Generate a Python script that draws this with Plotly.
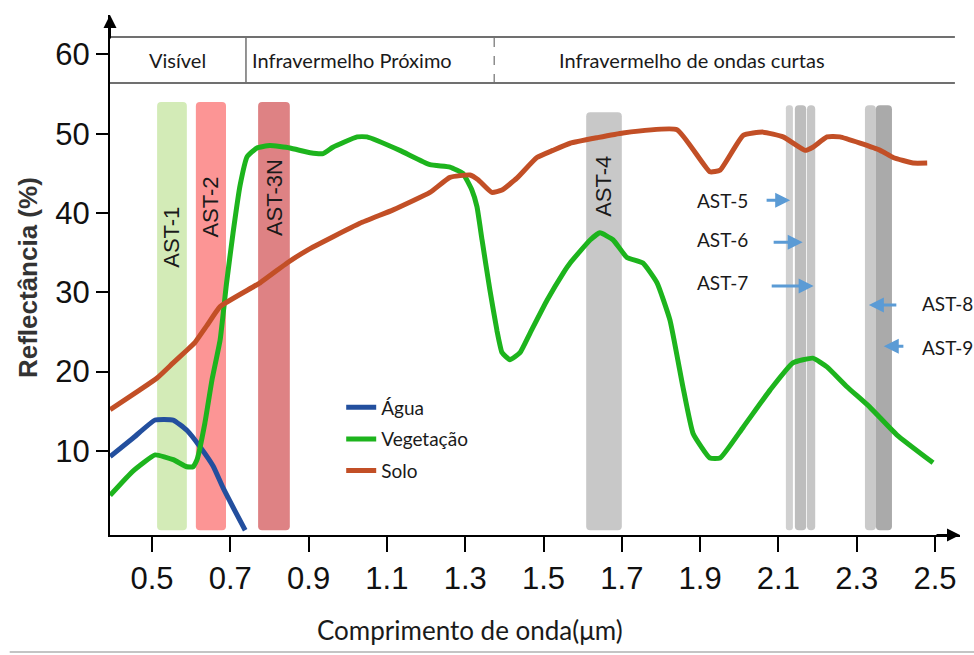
import plotly.graph_objects as go

# ---------------- data ----------------
wl_agua = [0.393, 0.451, 0.508, 0.554, 0.589, 0.623, 0.656, 0.681, 0.707, 0.738]
agua = [9.3, 11.6, 13.9, 13.9, 12.6, 10.5, 8.1, 5.4, 2.9, 0.0]

wl_veg = [0.393, 0.450, 0.508, 0.554, 0.589, 0.605, 0.615, 0.635, 0.653, 0.674, 0.690, 0.707,
          0.725, 0.743, 0.768, 0.801, 0.852, 0.904, 0.937, 0.962, 1.024, 1.049, 1.133, 1.210,
          1.261, 1.294, 1.317, 1.330, 1.343, 1.363, 1.381, 1.394, 1.414, 1.440, 1.466, 1.509,
          1.550, 1.568, 1.619, 1.644, 1.678, 1.713, 1.754, 1.790, 1.823, 1.856, 1.882, 1.925,
          1.951, 2.010, 2.079, 2.137, 2.188, 2.224, 2.275, 2.334, 2.403, 2.495]
vegetacao = [4.4, 7.4, 9.5, 8.9, 8.0, 8.0, 8.9, 13.5, 18.9, 24.0, 31.0, 37.5,
             43.5, 47.1, 48.2, 48.5, 48.2, 47.6, 47.5, 48.3, 49.6, 49.6, 47.9, 46.1,
             45.8, 45.0, 42.9, 40.8, 36.6, 30.3, 25.2, 22.4, 21.5, 22.4, 24.9, 29.0,
             32.4, 33.7, 36.6, 37.5, 36.6, 34.4, 33.7, 31.2, 26.5, 18.1, 12.2, 9.1,
             9.1, 13.0, 17.7, 21.1, 21.7, 20.6, 18.1, 15.5, 12.0, 8.5]

wl_solo = [0.393, 0.469, 0.513, 0.554, 0.589, 0.610, 0.640, 0.674, 0.776, 0.845, 0.896, 1.031,
           1.116, 1.210, 1.261, 1.312, 1.333, 1.368, 1.394, 1.432, 1.483, 1.524, 1.568, 1.637,
           1.703, 1.841, 1.925, 1.951, 2.010, 2.061, 2.112, 2.168, 2.188, 2.224, 2.257, 2.360,
           2.393, 2.444, 2.480]
solo = [15.2, 17.7, 19.2, 21.1, 22.7, 23.7, 25.8, 28.2, 31.2, 33.7, 35.3, 38.7,
        40.4, 42.6, 44.5, 44.8, 44.2, 42.6, 42.9, 44.4, 47.0, 47.9, 48.8, 49.5,
        50.1, 50.5, 45.2, 45.4, 49.8, 50.2, 49.6, 47.9, 48.3, 49.6, 49.6, 47.9,
        47.0, 46.3, 46.3]

band_names = ["AST-1", "AST-2", "AST-3N", "AST-4", "AST-5", "AST-6", "AST-7", "AST-8", "AST-9"]
band_lo = [0.513, 0.612, 0.771, 1.609, 2.119, 2.142, 2.173, 2.321, 2.349]
band_hi = [0.589, 0.689, 0.852, 1.700, 2.137, 2.171, 2.194, 2.349, 2.390]
band_top = [54.0, 54.0, 54.0, 52.7, 53.6, 53.6, 53.6, 53.6, 53.6]

regions = ["Visível", "Infravermelho Próximo", "Infravermelho de ondas curtas"]
region_bounds = [0.740, 1.374]

x_ticks = [0.5, 0.7, 0.9, 1.1, 1.3, 1.5, 1.7, 1.9, 2.1, 2.3, 2.5]
y_ticks = [10, 20, 30, 40, 50, 60]

# ---------------- styles ----------------
band_colors = ["#d3ebb7", "#fc9595", "#de8284", "#c8c8c8", "#d0d0d0", "#bdbdbd",
               "#c6c6c6", "#cacaca", "#aaaaaa"]
C_AGUA, C_VEG, C_SOLO = "#234f9e", "#1db41d", "#c24f26"
TXT = "#1a1a1a"
NUM_FONT = "Liberation Sans Narrow, Arial Narrow, Liberation Sans, Arial"
CAL = "Lato, Open Sans, sans-serif"
ARIAL = "Liberation Sans, Arial"

fig = go.Figure()

centers = [(a + b) / 2 for a, b in zip(band_lo, band_hi)]
widths = [b - a for a, b in zip(band_lo, band_hi)]
fig.add_trace(go.Bar(x=centers, y=band_top, base=0, width=widths,
                     marker=dict(color=band_colors, line=dict(width=0), cornerradius=4),
                     showlegend=False, hoverinfo="skip"))

fig.add_trace(go.Scatter(x=wl_agua, y=agua, mode="lines", name="Água",
                         line=dict(color=C_AGUA, width=5, shape="spline", smoothing=0.4),
                         legendgroup="a"))
fig.add_trace(go.Scatter(x=wl_veg, y=vegetacao, mode="lines", name="Vegetação",
                         line=dict(color=C_VEG, width=5, shape="spline", smoothing=0.4),
                         legendgroup="v"))
fig.add_trace(go.Scatter(x=wl_solo, y=solo, mode="lines", name="Solo",
                         line=dict(color=C_SOLO, width=5, shape="spline", smoothing=0.4),
                         legendgroup="s"))

ann = []
# band labels inside cylinders
label_y = [37.0, 40.8, 42.0, 43.3]
for i in range(4):
    ann.append(dict(x=centers[i], y=label_y[i], xref="x", yref="y", text=band_names[i],
                    textangle=-90, showarrow=False, xanchor="center", yanchor="middle",
                    font=dict(family=ARIAL, size=22, color=TXT)))

# arrow labels for SWIR bands
arrow_specs = [  # (text x, text y, tail x, head x, arrow y)
    (1.958, 41.6, 2.066, 2.130, 41.6),
    (1.958, 36.6, 2.084, 2.162, 36.3),
    (1.958, 31.2, 2.079, 2.190, 30.8),
    (2.533, 28.6, 2.405, 2.331, 28.4),
    (2.533, 23.1, 2.423, 2.369, 23.2),
]
for name, (tx, ty, ax0, hx, ay0) in zip(band_names[4:], arrow_specs):
    ann.append(dict(x=tx, y=ty, xref="x", yref="y", text=name, showarrow=False,
                    xanchor="center", yanchor="middle",
                    font=dict(family=CAL, size=19, color=TXT)))
    ann.append(dict(x=hx, y=ay0, ax=ax0, ay=ay0, xref="x", yref="y", axref="x", ayref="y",
                    text="", showarrow=True, arrowhead=2, arrowsize=1, arrowwidth=3,
                    arrowcolor="#5b9bd5"))

# header region texts
header_y = 0.9135
for txt, xc in zip(regions, [0.566, 1.011, 1.879]):
    ann.append(dict(x=xc, y=header_y, xref="x", yref="paper", text=txt, showarrow=False,
                    xanchor="center", yanchor="middle",
                    font=dict(family=CAL, size=20, color=TXT)))

# axis titles
ann.append(dict(x=-0.0965, y=0.496, xref="paper", yref="paper", text="Reflectância (%)",
                textangle=-90, showarrow=False, xanchor="center", yanchor="middle",
                font=dict(family=ARIAL, size=26, color="#333333", weight="bold")))
ann.append(dict(x=0.4235, y=-0.183, xref="paper", yref="paper",
                text="Comprimento de onda(μm)", showarrow=False,
                xanchor="center", yanchor="middle",
                font=dict(family=CAL, size=26, color=TXT)))

# axis arrows
ann.append(dict(x=1.0, y=0, xref="paper", yref="paper", ax=-25, ay=0, text="",
                showarrow=True, arrowhead=2, arrowsize=1.3, arrowwidth=2, arrowcolor="black"))
ann.append(dict(x=0, y=1.0, xref="paper", yref="paper", ax=0, ay=25, text="",
                showarrow=True, arrowhead=2, arrowsize=1.3, arrowwidth=2, arrowcolor="black"))

shapes = []
hy0, hy1 = 0.8692, 0.9577
for yy in (hy0, hy1):
    shapes.append(dict(type="line", xref="paper", yref="paper", x0=0, x1=0.994, y0=yy, y1=yy,
                       line=dict(color="#707070", width=2)))
shapes.append(dict(type="line", xref="x", yref="paper", x0=region_bounds[0], x1=region_bounds[0],
                   y0=hy0, y1=hy1, line=dict(color="#707070", width=1.5)))
shapes.append(dict(type="line", xref="x", yref="paper", x0=region_bounds[1], x1=region_bounds[1],
                   y0=hy0, y1=hy1, line=dict(color="#707070", width=1.2, dash="dash")))
shapes.append(dict(type="line", xref="paper", yref="paper", x0=-0.118, x1=1.02, y0=-0.225,
                   y1=-0.225, line=dict(color="#c4c4c4", width=2)))

fig.update_layout(
    width=974, height=655,
    margin=dict(l=110, r=14, t=15, b=120),
    plot_bgcolor="white", paper_bgcolor="white",
    barmode="overlay",
    annotations=ann, shapes=shapes,
    showlegend=True,
    legend=dict(x=0.272, y=0.282, xanchor="left", yanchor="top",
                bgcolor="rgba(0,0,0,0)", borderwidth=0, tracegroupgap=4,
                font=dict(family=CAL, size=19, color=TXT)),
    xaxis=dict(range=[0.3927, 2.5638], tickvals=x_ticks, ticktext=[f"{v:.1f}" for v in x_ticks],
               showline=True, linecolor="black", linewidth=2, ticks="outside", ticklen=15,
               tickwidth=2, tickcolor="black", showgrid=False, zeroline=False,
               tickfont=dict(family=NUM_FONT, size=31, color="#111111")),
    yaxis=dict(range=[-0.6, 64.97], tickvals=y_ticks, ticktext=[str(v) for v in y_ticks],
               showline=True, linecolor="black", linewidth=2, ticks="outside", ticklen=12,
               tickwidth=2, tickcolor="black", showgrid=False, zeroline=False,
               tickfont=dict(family=NUM_FONT, size=31, color="#111111")),
)

fig.write_html("out.html")
